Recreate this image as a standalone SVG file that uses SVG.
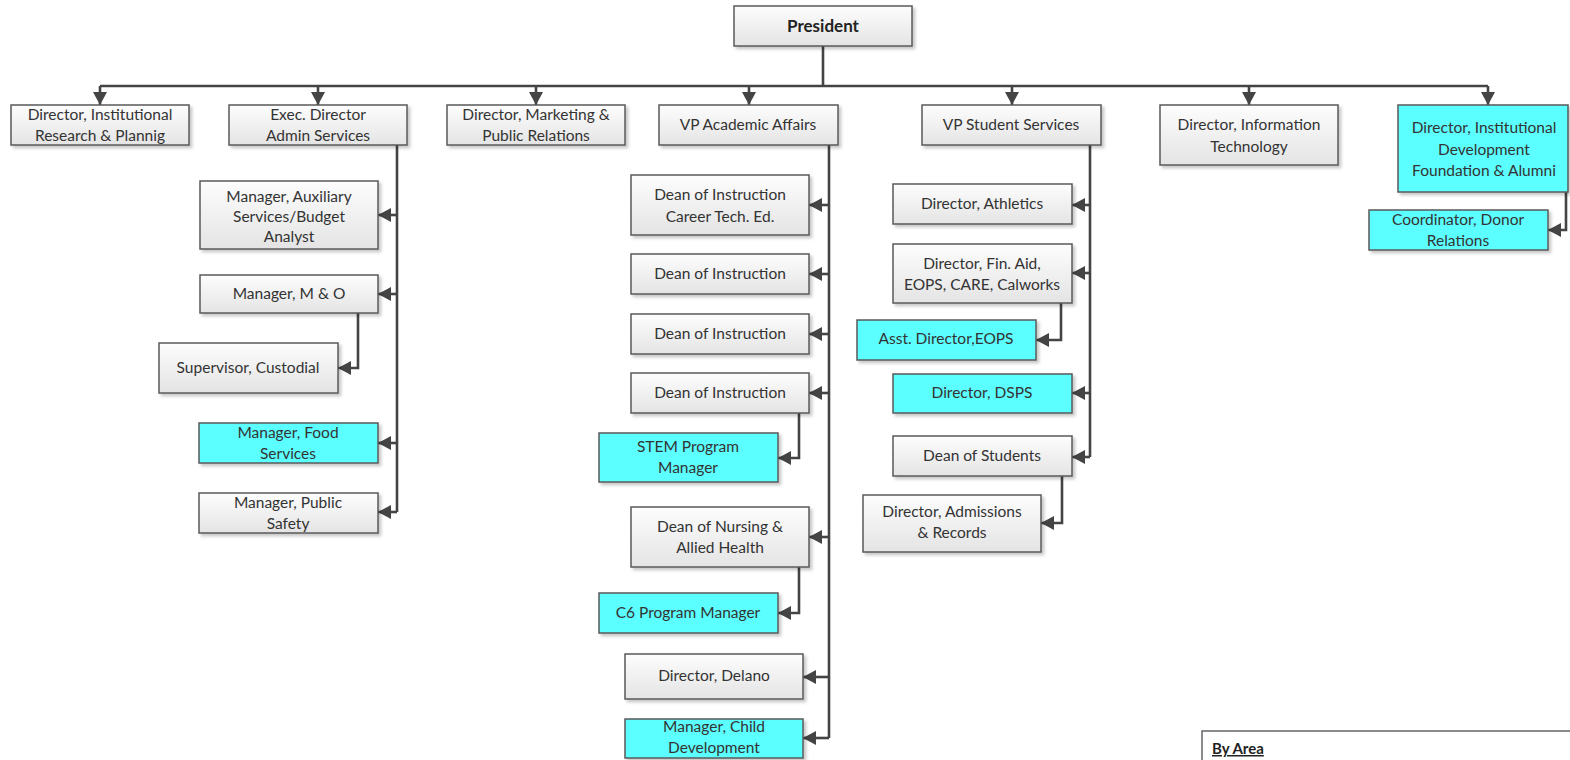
<svg xmlns="http://www.w3.org/2000/svg" width="1570" height="760" viewBox="0 0 1570 760">
  <defs>
    <linearGradient id="boxFill" x1="0" y1="0" x2="0" y2="1">
      <stop offset="0" stop-color="#fdfdfd"/>
      <stop offset="1" stop-color="#e4e4e4"/>
    </linearGradient>
    <filter id="shadow" x="-10%" y="-20%" width="130%" height="150%">
      <feDropShadow dx="2.5" dy="2.5" stdDeviation="1.5" flood-color="#000" flood-opacity="0.22"/>
    </filter>
    <marker id="arrow" markerUnits="userSpaceOnUse" markerWidth="13" markerHeight="14" viewBox="0 0 13 14" refX="13" refY="7" orient="auto">
      <path d="M0,0 L13,7 L0,14 Z" fill="#444"/>
    </marker>
  </defs>
  <style>
    .box { fill: url(#boxFill); stroke: #5a5a5a; stroke-width: 1.5; filter: url(#shadow); }
    .hi { fill: #5cffff; stroke: #5a5a5a; stroke-width: 1.5; filter: url(#shadow); }
    .lbl { font-family: Lato, "Liberation Sans", Arial, sans-serif; font-size: 15.5px; fill: #333; text-anchor: middle; }
    .title { font-family: Lato, "Liberation Sans", Arial, sans-serif; font-size: 17px; font-weight: bold; fill: #222; text-anchor: middle; }
    .wire { fill: none; stroke: #444; stroke-width: 2.6; }
    .arr { fill: none; stroke: #444; stroke-width: 2.6; marker-end: url(#arrow); }
    .legend { fill: #fff; stroke: #666; stroke-width: 1.5; }
    .legtxt { font-family: Lato, "Liberation Sans", Arial, sans-serif; font-size: 15px; font-weight: bold; fill: #222; text-decoration: underline; }
  </style>

  <!-- connectors -->
  <g id="connectors">
    <path class="wire" d="M823,46 V86"/>
    <path class="wire" d="M100,86 H1488"/>
    <path class="arr" d="M100,86 V105"/>
    <path class="arr" d="M318,86 V105"/>
    <path class="arr" d="M536,86 V105"/>
    <path class="arr" d="M749,86 V105"/>
    <path class="arr" d="M1012,86 V105"/>
    <path class="arr" d="M1249,86 V105"/>
    <path class="arr" d="M1488,86 V105"/>

    <!-- admin services branch -->
    <path class="wire" d="M397,145 V512"/>
    <path class="arr" d="M397,215 H378"/>
    <path class="arr" d="M397,294 H378"/>
    <path class="arr" d="M358,313 V368 H338"/>
    <path class="arr" d="M397,443 H378"/>
    <path class="arr" d="M397,512 H378"/>

    <!-- academic affairs branch -->
    <path class="wire" d="M829,145 V738"/>
    <path class="arr" d="M829,205 H809"/>
    <path class="arr" d="M829,274 H809"/>
    <path class="arr" d="M829,334 H809"/>
    <path class="arr" d="M829,393 H809"/>
    <path class="arr" d="M799,413 V458 H778"/>
    <path class="arr" d="M829,537 H809"/>
    <path class="arr" d="M799,567 V613 H778"/>
    <path class="arr" d="M829,677 H803"/>
    <path class="arr" d="M829,738 H803"/>

    <!-- student services branch -->
    <path class="wire" d="M1090,145 V457"/>
    <path class="arr" d="M1090,205 H1072"/>
    <path class="arr" d="M1090,273 H1072"/>
    <path class="arr" d="M1061,303 V340 H1036"/>
    <path class="arr" d="M1090,393 H1072"/>
    <path class="arr" d="M1090,457 H1072"/>
    <path class="arr" d="M1062,476 V523 H1041"/>

    <!-- institutional development branch -->
    <path class="arr" d="M1566,192 V230 H1548"/>
  </g>

  <g id="president">
    <rect class="box" x="734" y="6" width="178" height="40"/>
    <text class="title" x="823" y="32">President</text>
  </g>

  <g id="dir-research">
    <rect class="box" x="11" y="105" width="178" height="40"/>
    <text class="lbl" x="100" y="120">Director, Institutional</text>
    <text class="lbl" x="100" y="141">Research &amp; Plannig</text>
  </g>
  <g id="exec-admin">
    <rect class="box" x="229" y="105" width="178" height="40"/>
    <text class="lbl" x="318" y="120">Exec. Director</text>
    <text class="lbl" x="318" y="141">Admin Services</text>
  </g>
  <g id="dir-marketing">
    <rect class="box" x="447" y="105" width="178" height="40"/>
    <text class="lbl" x="536" y="120">Director, Marketing &amp;</text>
    <text class="lbl" x="536" y="141">Public Relations</text>
  </g>
  <g id="vp-academic">
    <rect class="box" x="659" y="105" width="179" height="40"/>
    <text class="lbl" x="748" y="130">VP Academic Affairs</text>
  </g>
  <g id="vp-student">
    <rect class="box" x="922" y="105" width="179" height="40"/>
    <text class="lbl" x="1011" y="130">VP Student Services</text>
  </g>
  <g id="dir-it">
    <rect class="box" x="1160" y="105" width="178" height="60"/>
    <text class="lbl" x="1249" y="130">Director, Information</text>
    <text class="lbl" x="1249" y="152">Technology</text>
  </g>
  <g id="dir-inst-dev">
    <rect class="hi" x="1398" y="105" width="170" height="87"/>
    <text class="lbl" x="1484" y="133">Director, Institutional</text>
    <text class="lbl" x="1484" y="155">Development</text>
    <text class="lbl" x="1484" y="176">Foundation &amp; Alumni</text>
  </g>
  <g id="coord-donor">
    <rect class="hi" x="1369" y="210" width="179" height="40"/>
    <text class="lbl" x="1458" y="225">Coordinator, Donor</text>
    <text class="lbl" x="1458" y="246">Relations</text>
  </g>

  <!-- admin services reports -->
  <g id="mgr-auxiliary">
    <rect class="box" x="200" y="181" width="178" height="68"/>
    <text class="lbl" x="289" y="202">Manager, Auxiliary</text>
    <text class="lbl" x="289" y="222">Services/Budget</text>
    <text class="lbl" x="289" y="242">Analyst</text>
  </g>
  <g id="mgr-mo">
    <rect class="box" x="200" y="275" width="178" height="38"/>
    <text class="lbl" x="289" y="299">Manager, M &amp; O</text>
  </g>
  <g id="sup-custodial">
    <rect class="box" x="159" y="343" width="179" height="50"/>
    <text class="lbl" x="248" y="373">Supervisor, Custodial</text>
  </g>
  <g id="mgr-food">
    <rect class="hi" x="199" y="423" width="179" height="40"/>
    <text class="lbl" x="288" y="438">Manager, Food</text>
    <text class="lbl" x="288" y="459">Services</text>
  </g>
  <g id="mgr-safety">
    <rect class="box" x="199" y="493" width="179" height="40"/>
    <text class="lbl" x="288" y="508">Manager, Public</text>
    <text class="lbl" x="288" y="529">Safety</text>
  </g>

  <!-- academic affairs reports -->
  <g id="dean-cte">
    <rect class="box" x="631" y="175" width="178" height="60"/>
    <text class="lbl" x="720" y="200">Dean of Instruction</text>
    <text class="lbl" x="720" y="222">Career Tech. Ed.</text>
  </g>
  <g id="dean-instr-1">
    <rect class="box" x="631" y="254" width="178" height="40"/>
    <text class="lbl" x="720" y="279">Dean of Instruction</text>
  </g>
  <g id="dean-instr-2">
    <rect class="box" x="631" y="314" width="178" height="40"/>
    <text class="lbl" x="720" y="339">Dean of Instruction</text>
  </g>
  <g id="dean-instr-3">
    <rect class="box" x="631" y="373" width="178" height="40"/>
    <text class="lbl" x="720" y="398">Dean of Instruction</text>
  </g>
  <g id="stem-mgr">
    <rect class="hi" x="599" y="433" width="179" height="49"/>
    <text class="lbl" x="688" y="452">STEM Program</text>
    <text class="lbl" x="688" y="473">Manager</text>
  </g>
  <g id="dean-nursing">
    <rect class="box" x="631" y="507" width="178" height="60"/>
    <text class="lbl" x="720" y="532">Dean of Nursing &amp;</text>
    <text class="lbl" x="720" y="553">Allied Health</text>
  </g>
  <g id="c6-mgr">
    <rect class="hi" x="599" y="593" width="179" height="40"/>
    <text class="lbl" x="688" y="618">C6 Program Manager</text>
  </g>
  <g id="dir-delano">
    <rect class="box" x="625" y="654" width="178" height="45"/>
    <text class="lbl" x="714" y="681">Director, Delano</text>
  </g>
  <g id="mgr-child">
    <rect class="hi" x="625" y="719" width="178" height="39"/>
    <text class="lbl" x="714" y="732">Manager, Child</text>
    <text class="lbl" x="714" y="753">Development</text>
  </g>

  <!-- student services reports -->
  <g id="dir-athletics">
    <rect class="box" x="893" y="184" width="179" height="40"/>
    <text class="lbl" x="982" y="209">Director, Athletics</text>
  </g>
  <g id="dir-finaid">
    <rect class="box" x="893" y="244" width="179" height="59"/>
    <text class="lbl" x="982" y="269">Director, Fin. Aid,</text>
    <text class="lbl" x="982" y="290">EOPS, CARE, Calworks</text>
  </g>
  <g id="asst-eops">
    <rect class="hi" x="857" y="320" width="179" height="40"/>
    <text class="lbl" x="946" y="344">Asst. Director,EOPS</text>
  </g>
  <g id="dir-dsps">
    <rect class="hi" x="893" y="374" width="179" height="39"/>
    <text class="lbl" x="982" y="398">Director, DSPS</text>
  </g>
  <g id="dean-students">
    <rect class="box" x="893" y="436" width="179" height="40"/>
    <text class="lbl" x="982" y="461">Dean of Students</text>
  </g>
  <g id="dir-admissions">
    <rect class="box" x="863" y="495" width="178" height="57"/>
    <text class="lbl" x="952" y="517">Director, Admissions</text>
    <text class="lbl" x="952" y="538">&amp; Records</text>
  </g>

  <g id="legend">
    <rect class="legend" x="1202" y="731" width="400" height="60"/>
    <text class="legtxt" x="1212" y="754">By Area</text>
  </g>
</svg>
